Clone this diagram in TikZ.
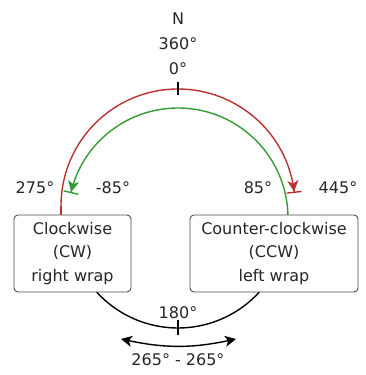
\documentclass[tikz,border=0pt]{standalone}
\usepackage{fontspec}
\setmainfont{DejaVu Sans}
\usepackage{xcolor}
\usetikzlibrary{arrows.meta}
\definecolor{cwred}{RGB}{185,50,50}
\definecolor{ccwgreen}{RGB}{50,155,50}

\begin{document}
\begin{tikzpicture}[x=1pt,y=1pt,font=\fontsize{16}{23.5}\selectfont,text=black!85,
    wrapbox/.style={draw=black!70,line width=0.9pt,rounded corners=4pt,fill=white,
                    align=center,minimum height=77pt,inner sep=0pt},
    wrap/.style={line width=1.4pt},
    endtip/.style={-{Stealth[length=11pt,width=11pt,inset=3pt]Bar[width=15pt]}},
    tickmark/.style={line width=1.6pt}]
  \useasboundingbox (0,0) rectangle (366,375);
  \coordinate (ctr) at (178,157);  % inner circle
  \coordinate (rc) at (178,169);   % outer circle
  % arcs first, boxes go on top
  \draw[wrap,cwred,endtip] (rc) ++(180:117) coordinate (r0)
     arc[start angle=180,end angle=6.4,radius=117];
  \draw[wrap,ccwgreen,endtip] (ctr) ++(1.6:110)
     arc[start angle=1.6,end angle=167,radius=110];
  \draw[wrap] (ctr) ++(222.3:110) arc[start angle=222.3,end angle=317.7,radius=110];
  \node[wrapbox,minimum width=117pt] (cw) at (72.5,121.5) {Clockwise\\(CW)\\right wrap};
  \node[wrapbox,minimum width=168pt] (ccw) at (274,121.5) {Counter-clockwise\\(CCW)\\left wrap};
  \draw[wrap,cwred] (cw.north -| r0) -- (r0);
  % degree marks
  \node[align=center,font=\fontsize{16}{25}\selectfont] (north) at (178,331) {N\\360°\\0°};
  \draw[tickmark] (178,280) -- (178,293);
  \foreach \n/\x/\t in {a/35/275°,b/113/-85°,c/258/85°,d/338/445°}
    \node (deg\n) at (\x,187) {\t};
  \node (half) at (178,62) {180°};
  \draw[tickmark] (178,40) -- (178,55);
  \coordinate (sl) at (121,36);
  \coordinate (sr) at (236,36);
  \draw[wrap,{Stealth[length=11pt,width=11pt,inset=3pt]}-{Stealth[length=11pt,width=11pt,inset=3pt]}]
    (sl) to[bend right=12] (sr);
  \node (range) at (178,15) {265° - 265°};
\end{tikzpicture}
\end{document}
